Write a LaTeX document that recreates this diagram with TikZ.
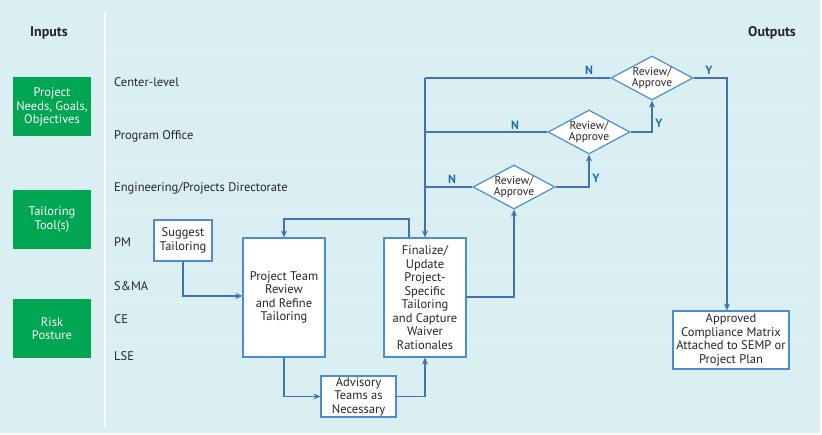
\documentclass[tikz,border=0pt]{standalone}
\usepackage{fontspec}
\setmainfont{PT Sans}
\usetikzlibrary{shapes.geometric,arrows.meta}
\definecolor{bgc}{HTML}{D9EFF2}
\definecolor{grn}{HTML}{00A651}
\definecolor{lnc}{HTML}{4470B8}
\definecolor{bdc}{HTML}{4A8ED0}
\definecolor{lbc}{HTML}{1F6DB3}
\definecolor{txc}{HTML}{262626}
\tikzset{
  px/.style={x=1pt,y=-1pt},
  gbox/.style={fill=grn,text=white,minimum width=78pt,align=center,font=\fontsize{12.5}{13.5}\selectfont,inner sep=0pt},
  lane/.style={anchor=west,text=txc,font=\fontsize{12.5}{13.5}\selectfont,inner sep=0pt},
  pbox/.style={draw=bdc,line width=1.2pt,fill=white,align=center,text=txc,font=\fontsize{12.5}{13.5}\selectfont,inner sep=0pt},
  dia/.style={diamond,draw=bdc,line width=1.2pt,fill=white,align=center,text=txc,font=\fontsize{11.5}{11.5}\selectfont,inner sep=0pt,minimum width=82pt,minimum height=44pt,aspect=1.86},
  conn/.style={draw=lnc,line width=1.2pt},
  arr/.style={conn,-{Stealth[length=7pt,width=6pt]}},
  yn/.style={text=lbc,font=\bfseries\fontsize{12}{12}\selectfont,inner sep=0pt},
  dots/.style={draw=white,line width=0.9pt,dash pattern=on 0.9pt off 3.2pt},
  hdr/.style={font=\bfseries\fontsize{14}{15}\selectfont,text=txc,inner sep=0pt}
}
\begin{document}
\begin{tikzpicture}[px]
\useasboundingbox (0,0) rectangle (822,435);
\fill[white] (0,0) rectangle (822,435);
\fill[bgc] (0,0) rectangle (820,433);
% dotted lane lines
\foreach \yy in {53,107,161,214,267,302,337}
  \draw[dots] (106,\yy) -- (810,\yy);
\draw[white,line width=1.4pt] (105,12) -- (105,427);
% headers
\node[hdr] (inputs) at (49,33) {Inputs};
\node[hdr] (outputs) at (772,33) {Outputs};
% green input boxes
\node[gbox,minimum height=59pt] (g1) at (52,107) {Project\\Needs, Goals,\\Objectives};
\node[gbox,minimum height=59pt] (g2) at (52,219.5) {Tailoring\\Tool(s)};
\node[gbox,minimum height=59pt] (g3) at (52,328.5) {Risk\\Posture};
% lane labels
\node[lane] (l1) at (114,82) {Center-level};
\node[lane] (l2) at (114,136) {Program Office};
\node[lane] (l3) at (114,188) {Engineering/Projects Directorate};
\node[lane] (l4) at (114,242) {PM};
\node[lane] (l5) at (114,286) {S\&MA};
\node[lane] (l6) at (114,319) {CE};
\node[lane] (l7) at (114,356) {LSE};
% process boxes
\node[pbox,minimum width=58pt,minimum height=41pt] (sug) at (183,240.5) {Suggest\\Tailoring};
\node[pbox,minimum width=82pt,minimum height=119pt] (ptr) at (284,297.5) {Project Team\\Review\\and Refine\\Tailoring};
\node[pbox,minimum width=82pt,minimum height=119pt] (fin) at (425,297.5) {Finalize/\\Update\\Project-\\Specific\\Tailoring\\and Capture\\Waiver\\Rationales};
\node[pbox,minimum width=75pt,minimum height=41pt] (adv) at (358.5,396.5) {Advisory\\Teams as\\Necessary};
\node[pbox,minimum width=116pt,minimum height=58pt] (apr) at (731,340) {Approved\\Compliance Matrix\\Attached to SEMP or\\Project Plan};
% diamonds
\node[dia] (d3) at (652,78) {Review/\\Approve};
\node[dia] (d2) at (589,132) {Review/\\Approve};
\node[dia] (d1) at (514,187) {Review/\\Approve};
% coordinates
\coordinate (nx) at (425,78);
% connectors
\draw[arr] (sug.south) |- (ptr.west |- 0,296);
\draw[arr] (ptr.south) |- (adv.west);
\draw[arr] (adv.east) -| (fin.south);
\draw[arr] (fin.north -| 409,0) |- (284,219) -- (ptr.north);
\draw[arr] (fin.east |- 0,297) -| (d1.south);
\draw[arr] (d1.east) -| (d2.south);
\draw[arr] (d2.east) -| (d3.south);
\draw[arr] (d3.east) -| (apr.north -| 727,0);
\draw[conn] (d3.west) -- (nx);
\draw[conn] (d2.west) -- (nx |- d2.west);
\draw[conn] (d1.west) -- (nx |- d1.west);
\draw[arr] (nx) -- (fin.north);
% labels
\node[yn] (n3) at (589,70) {N};
\node[yn] (n2) at (515,125) {N};
\node[yn] (n1) at (452,179) {N};
\node[yn] (y3) at (709,70) {Y};
\node[yn] (y2) at (659,123) {Y};
\node[yn] (y1) at (596,178) {Y};
\end{tikzpicture}
\end{document}
